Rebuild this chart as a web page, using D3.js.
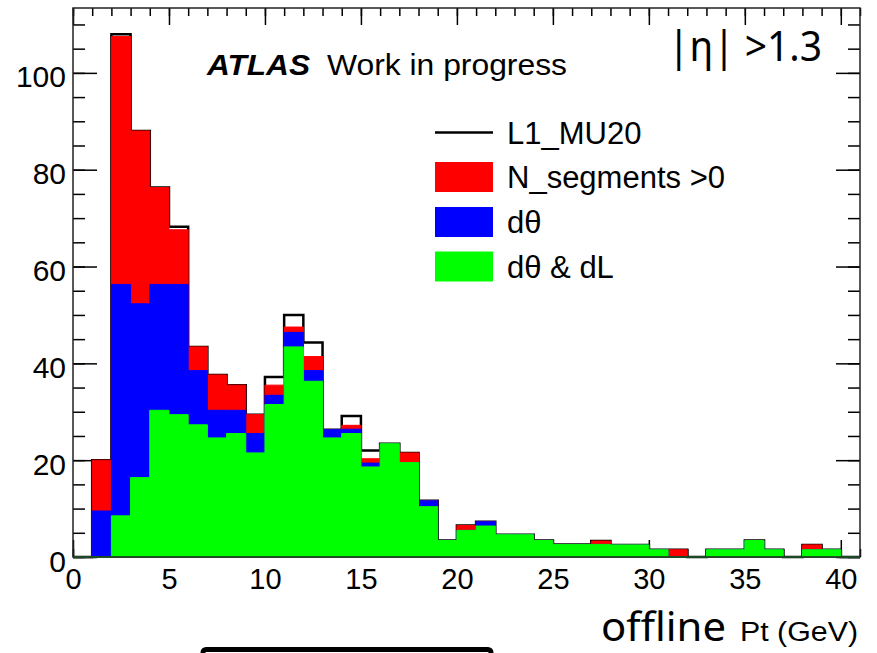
<!DOCTYPE html>
<meta charset="utf-8">
<style>
body { margin: 0; background: #fff; }
svg { display: block; }
.axis path { display: none; }
.axis line { stroke: #000; stroke-width: 1.5; }
.axis text { font-family: "Liberation Sans", Arial, sans-serif; fill: #000; }
.root { font-family: "Liberation Sans", Arial, sans-serif; fill: #000; }
.ppt { font-family: "Noto Sans", "Open Sans", sans-serif; fill: #000; }
</style>
<body>
<svg id="chart" width="877" height="653"></svg>
<script src="https://cdn.jsdelivr.net/npm/d3@7"></script>
<script>

// lower edge of each 1 GeV bin
var binLow = [0, 1, 2, 3, 4, 5, 6, 7, 8, 9, 10, 11, 12, 13, 14, 15, 16, 17, 18, 19, 20,
              21, 22, 23, 24, 25, 26, 27, 28, 29, 30, 31, 32, 33, 34, 35, 36, 37, 38, 39, 40];

// counts, one per bin
var l1Counts = [0, 20, 108, 88, 76.3, 68.2, 43.4, 37.6, 35.5, 29.4, 37.2,
                50, 44.3, 26.3, 29.1, 22, 23.4, 21.5, 11.6, 3.4, 6.5,
                7.3, 4.6, 4.6, 3.4, 2.6, 2.6, 3.3, 2.5, 2.5, 1.5,
                1.5, 0, 1.5, 1.5, 3.4, 1.5, 0, 2.5, 1.5, 0];
var nSegCounts = [0, 20, 107.5, 88, 76.3, 67.6, 43.4, 37.6, 35.5, 29.4, 35.5,
                  47.5, 41.4, 26.3, 27.2, 20.3, 23.4, 21.5, 11.6, 3.4, 6.5,
                  7.3, 4.6, 4.6, 3.4, 2.6, 2.6, 3.3, 2.5, 2.5, 1.5,
                  1.5, 0, 1.5, 1.5, 3.4, 1.5, 0, 2.5, 1.5, 0];
var dThetaCounts = [0, 9.5, 56.3, 52.3, 56.3, 56.3, 38.5, 30.3, 30.3, 25.5, 33.4,
                    46.4, 38.5, 26.3, 26.4, 19.4, 23.4, 19.5, 11.6, 3.4, 5.5,
                    7.3, 4.6, 4.6, 3.4, 2.6, 2.6, 2.6, 2.5, 2.5, 1.5,
                    0, 0, 1.5, 1.5, 3.4, 1.5, 0, 1.5, 1.5, 0];
var dThetaDLCounts = [0, 0, 8.5, 16.4, 30.3, 29.4, 27.3, 24.6, 25.5, 21.5, 31.5,
                      43.4, 36.3, 24.6, 25.5, 18.6, 23.4, 19.5, 10.4, 3.4, 5.5,
                      6.4, 4.6, 4.6, 3.4, 2.6, 2.6, 2.6, 2.5, 2.5, 1.5,
                      0, 0, 1.5, 1.5, 3.4, 1.5, 0, 1.5, 1.5, 0];

var xTickLabels = [0, 5, 10, 15, 20, 25, 30, 35, 40];
var yTickLabels = [0, 20, 40, 60, 80, 100];

var seriesNames = ["L1_MU20", "N_segments >0", "d\u03b8", "d\u03b8 & dL"];
var seriesColors = ["#000000", "#ff0000", "#0000ff", "#00ff00"];

var frame = {left: 73, right: 860, top: 8, bottom: 557};
var xMax = binLow[binLow.length - 1] + 1;
var yMax = 113.4;

var svg = d3.select("svg#chart");

var x = d3.scaleLinear().domain([0, xMax]).range([frame.left, frame.right]);
var y = d3.scaleLinear().domain([0, yMax]).range([frame.bottom, frame.top]);

// minor ticks every 5 on y, every 1 on x (ROOT style, ticks point inward)
var yMinor = [], xMinor = [];
for (var v = 0; v <= yMax; v += 5) yMinor.push(v);
for (var u = 0; u <= xMax; u += 1) xMinor.push(u);

var axes = svg.append("g");

axes.append("g").attr("class", "axis")
    .attr("transform", "translate(" + frame.left + ",0)")
    .call(d3.axisLeft(y).tickValues(yMinor).tickSizeInner(-12).tickSizeOuter(0).tickFormat(""));
axes.append("g").attr("class", "axis")
    .attr("transform", "translate(" + frame.left + ",0)")
    .call(d3.axisLeft(y).tickValues(yTickLabels).tickSizeInner(-24).tickSizeOuter(0).tickPadding(7))
  .selectAll("text")
    .style("font-size", "30px")
    .attr("dy", "0.47em");

axes.append("g").attr("class", "axis")
    .attr("transform", "translate(" + frame.right + ",0)")
    .call(d3.axisRight(y).tickValues(yMinor).tickSizeInner(-12).tickSizeOuter(0).tickFormat(""));
axes.append("g").attr("class", "axis")
    .attr("transform", "translate(" + frame.right + ",0)")
    .call(d3.axisRight(y).tickValues(yTickLabels).tickSizeInner(-24).tickSizeOuter(0).tickFormat(""));

axes.append("g").attr("class", "axis")
    .attr("transform", "translate(0," + frame.bottom + ")")
    .call(d3.axisBottom(x).tickValues(xMinor).tickSizeInner(-8).tickSizeOuter(0).tickFormat(""));
axes.append("g").attr("class", "axis")
    .attr("transform", "translate(0," + frame.bottom + ")")
    .call(d3.axisBottom(x).tickValues(xTickLabels).tickSizeInner(-17).tickSizeOuter(0).tickPadding(11))
  .selectAll("text")
    .style("font-size", "29px");

axes.append("g").attr("class", "axis")
    .attr("transform", "translate(0," + frame.top + ")")
    .call(d3.axisTop(x).tickValues(xMinor).tickSizeInner(-8).tickSizeOuter(0).tickFormat(""));
axes.append("g").attr("class", "axis")
    .attr("transform", "translate(0," + frame.top + ")")
    .call(d3.axisTop(x).tickValues(xTickLabels).tickSizeInner(-17).tickSizeOuter(0).tickFormat(""));

// histograms: step points from bin edges
function steps(counts) {
  var pts = binLow.map((b, i) => [b, counts[i]]);
  pts.push([xMax, counts[counts.length - 1]]);
  return pts;
}

var hist = svg.append("g");

hist.append("path")
    .datum(steps(l1Counts))
    .attr("fill", "none")
    .attr("stroke", seriesColors[0])
    .attr("stroke-width", 2.5)
    .attr("d", d3.line().x(d => x(d[0])).y(d => y(d[1])).curve(d3.curveStepAfter));

var area = d3.area()
    .x(d => x(d[0]))
    .y0(y(0))
    .y1(d => y(d[1]))
    .curve(d3.curveStepAfter);

[nSegCounts, dThetaCounts, dThetaDLCounts].forEach(function(counts, i) {
  hist.append("path")
      .datum(steps(counts))
      .attr("fill", seriesColors[i + 1])
      .attr("stroke", seriesColors[i + 1])
      .attr("stroke-width", 1)
      .attr("d", area);
});

// frame on top
svg.append("rect")
    .attr("x", frame.left).attr("y", frame.top)
    .attr("width", frame.right - frame.left)
    .attr("height", frame.bottom - frame.top)
    .attr("fill", "none")
    .attr("stroke", "#222")
    .attr("stroke-width", 1.5);

// ATLAS label
svg.append("text").attr("class", "root")
    .attr("x", 207).attr("y", 75)
    .style("font-size", "30px").style("font-weight", "bold").style("font-style", "italic")
    .attr("textLength", 103).attr("lengthAdjust", "spacingAndGlyphs")
    .text("ATLAS");
svg.append("text").attr("class", "root")
    .attr("x", 327).attr("y", 75)
    .style("font-size", "30px")
    .attr("textLength", 240).attr("lengthAdjust", "spacingAndGlyphs")
    .text("Work in progress");

// legend
var legendRows = [132.5, 177, 222, 266.5];
var legend = svg.append("g");
legend.append("line")
    .attr("x1", 435).attr("x2", 493)
    .attr("y1", legendRows[0]).attr("y2", legendRows[0])
    .attr("stroke", "#000").attr("stroke-width", 2.5);
for (var k = 1; k < 4; k++) {
  legend.append("rect")
      .attr("x", 435).attr("y", legendRows[k] - 15)
      .attr("width", 58).attr("height", 30)
      .attr("fill", seriesColors[k]);
}
legend.selectAll("text.leg")
    .data(seriesNames)
  .enter().append("text")
    .attr("class", "root leg")
    .attr("x", 507)
    .attr("y", (d, i) => legendRows[i] + 11)
    .style("font-size", "31px")
    .text(d => d);

// slide overlays
svg.append("text").attr("class", "ppt")
    .attr("x", 668).attr("y", 61)
    .style("font-size", "42px")
    .attr("textLength", 154).attr("lengthAdjust", "spacingAndGlyphs")
    .text("|\u03b7| >1.3");

svg.append("text").attr("class", "ppt")
    .attr("x", 601).attr("y", 641)
    .style("font-size", "40px")
    .attr("textLength", 125).attr("lengthAdjust", "spacingAndGlyphs")
    .text("offline");
svg.append("text").attr("class", "root")
    .attr("x", 740).attr("y", 641)
    .style("font-size", "27px")
    .attr("textLength", 118).attr("lengthAdjust", "spacingAndGlyphs")
    .text("Pt (GeV)");

svg.append("rect")
    .attr("x", 203).attr("y", 649.5)
    .attr("width", 288).attr("height", 40)
    .attr("rx", 3)
    .attr("fill", "none")
    .attr("stroke", "#000")
    .attr("stroke-width", 5);

</script>
